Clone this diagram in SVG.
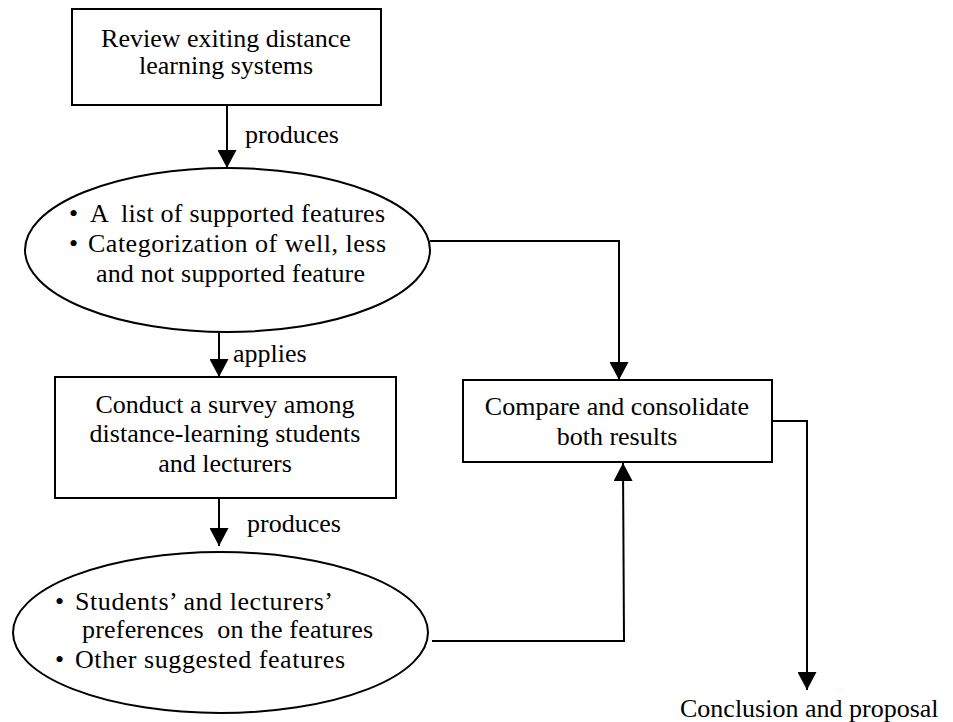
<svg xmlns="http://www.w3.org/2000/svg" width="953" height="722" viewBox="0 0 953 722">
<style>
.shape{fill:#fff;stroke:#000;stroke-width:2}
.conn{fill:none;stroke:#000;stroke-width:2}
text{font-family:"Liberation Serif","Times New Roman",serif;font-size:26px;fill:#000}
.c{text-anchor:middle}
</style>
<defs>
<marker id="arr" markerUnits="userSpaceOnUse" markerWidth="20" markerHeight="19" refX="19" refY="10" orient="auto" viewBox="0 0 19 20">
<path d="M0,0 L19,10 L0,20 Z" fill="#000"/>
</marker>
</defs>
<rect width="953" height="722" fill="#fff"/>
<g id="connectors">
<path class="conn" d="M227,105 V168" marker-end="url(#arr)"/>
<path class="conn" d="M219,332 V377" marker-end="url(#arr)"/>
<path class="conn" d="M219,498 V546" marker-end="url(#arr)"/>
<path class="conn" d="M430,241 H619 V380" marker-end="url(#arr)"/>
<path class="conn" d="M432,641 H624 L623,463" marker-end="url(#arr)"/>
<path class="conn" d="M772,421 H807 V690" marker-end="url(#arr)"/>
<text x="245" y="143">produces</text>
<text x="233" y="362">applies</text>
<text x="247" y="532">produces</text>
</g>
<g id="review">
<rect class="shape" x="72" y="9" width="309" height="96"/>
<text class="c" x="226" y="47">Review exiting distance</text>
<text class="c" x="226" y="74">learning systems</text>
</g>
<g id="features">
<ellipse class="shape" cx="227.5" cy="250" rx="202.5" ry="82"/>
<text x="69" y="222">•</text><text x="90" y="222" xml:space="preserve" textLength="295" lengthAdjust="spacing">A  list of supported features</text>
<text x="69" y="252">•</text><text x="88" y="252" textLength="298" lengthAdjust="spacing">Categorization of well, less</text>
<text x="96" y="282" textLength="269" lengthAdjust="spacing">and not supported feature</text>
</g>
<g id="survey">
<rect class="shape" x="55" y="377" width="341" height="121"/>
<text class="c" x="225" y="413">Conduct a survey among</text>
<text class="c" x="225" y="442">distance-learning students</text>
<text class="c" x="225" y="472">and lecturers</text>
</g>
<g id="preferences">
<ellipse class="shape" cx="220.5" cy="632.5" rx="207.5" ry="80.5"/>
<text x="55" y="610">•</text><text x="75" y="610" textLength="258" lengthAdjust="spacing">Students’ and lecturers’</text>
<text x="82" y="638" xml:space="preserve" textLength="291" lengthAdjust="spacing">preferences  on the features</text>
<text x="55" y="668">•</text><text x="75" y="668" textLength="270" lengthAdjust="spacing">Other suggested features</text>
</g>
<g id="compare">
<rect class="shape" x="463" y="380" width="309" height="82"/>
<text class="c" x="617" y="415">Compare and consolidate</text>
<text class="c" x="617" y="445">both results</text>
</g>
<g id="conclusion">
<text x="680" y="717">Conclusion and proposal</text>
</g>
</svg>
